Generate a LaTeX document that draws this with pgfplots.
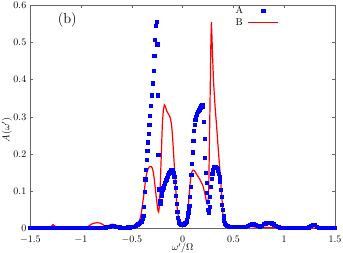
\documentclass[border=0pt]{standalone}
\usepackage{pgfplots}
\pgfplotsset{compat=1.18}
\pgfplotstableread{
w A
-1.50 0.002
-1.48 0.002
-1.46 0.002
-1.44 0.002
-1.42 0.002
-1.40 0.002
-1.38 0.002
-1.36 0.002
-1.34 0.002
-1.32 0.002
-1.30 0.003
-1.28 0.003
-1.26 0.003
-1.24 0.003
-1.22 0.002
-1.20 0.002
-1.18 0.002
-1.16 0.002
-1.14 0.002
-1.12 0.002
-1.10 0.002
-1.08 0.002
-1.06 0.002
-1.04 0.002
-1.02 0.002
-1.00 0.002
-0.98 0.002
-0.96 0.002
-0.94 0.002
-0.92 0.002
-0.90 0.003
-0.88 0.003
-0.86 0.003
-0.84 0.003
-0.82 0.003
-0.80 0.003
-0.78 0.003
-0.76 0.004
-0.74 0.005
-0.72 0.006
-0.70 0.007
-0.68 0.007
-0.66 0.006
-0.64 0.005
-0.62 0.004
-0.60 0.003
-0.58 0.003
-0.56 0.003
-0.54 0.004
-0.52 0.004
-0.50 0.005
-0.48 0.006
-0.46 0.008
-0.450 0.010
-0.440 0.012
-0.430 0.014
-0.420 0.016
-0.410 0.018
-0.400 0.020
-0.394 0.026
-0.388 0.034
-0.381 0.059
-0.375 0.099
-0.368 0.133
-0.362 0.159
-0.355 0.186
-0.349 0.209
-0.342 0.232
-0.335 0.254
-0.329 0.278
-0.321 0.302
-0.311 0.329
-0.304 0.358
-0.294 0.390
-0.287 0.424
-0.280 0.464
-0.273 0.506
-0.263 0.544
-0.257 0.555
-0.250 0.495
-0.246 0.358
-0.241 0.198
-0.234 0.106
-0.228 0.075
-0.222 0.068
-0.216 0.075
-0.210 0.088
-0.204 0.098
-0.198 0.106
-0.192 0.111
-0.186 0.116
-0.180 0.120
-0.174 0.124
-0.168 0.128
-0.162 0.132
-0.156 0.136
-0.150 0.140
-0.144 0.144
-0.138 0.147
-0.132 0.150
-0.126 0.153
-0.120 0.155
-0.114 0.157
-0.108 0.158
-0.102 0.158
-0.096 0.156
-0.090 0.150
-0.084 0.139
-0.077 0.125
-0.071 0.110
-0.065 0.088
-0.059 0.066
-0.053 0.045
-0.047 0.030
-0.041 0.020
-0.035 0.016
-0.029 0.013
-0.023 0.011
-0.016 0.010
-0.010 0.010
-0.003 0.010
0.003 0.011
0.010 0.012
0.016 0.013
0.023 0.015
0.029 0.017
0.036 0.020
0.042 0.025
0.049 0.032
0.055 0.042
0.060 0.052
0.065 0.062
0.071 0.086
0.077 0.113
0.084 0.144
0.090 0.174
0.097 0.205
0.103 0.235
0.110 0.262
0.116 0.280
0.123 0.293
0.129 0.300
0.136 0.305
0.142 0.309
0.149 0.313
0.155 0.317
0.162 0.320
0.168 0.323
0.175 0.326
0.181 0.329
0.188 0.332
0.194 0.333
0.201 0.328
0.208 0.288
0.214 0.242
0.221 0.190
0.227 0.150
0.233 0.124
0.240 0.097
0.246 0.072
0.252 0.052
0.258 0.043
0.264 0.060
0.270 0.086
0.277 0.113
0.283 0.135
0.290 0.148
0.296 0.158
0.303 0.163
0.310 0.166
0.316 0.167
0.323 0.167
0.329 0.165
0.336 0.163
0.342 0.160
0.349 0.155
0.355 0.148
0.362 0.138
0.368 0.125
0.375 0.105
0.381 0.085
0.388 0.065
0.394 0.050
0.401 0.035
0.407 0.023
0.414 0.015
0.420 0.011
0.430 0.009
0.440 0.007
0.450 0.006
0.46 0.005
0.48 0.005
0.50 0.005
0.52 0.005
0.54 0.005
0.56 0.005
0.58 0.005
0.60 0.005
0.62 0.006
0.64 0.008
0.66 0.011
0.68 0.012
0.70 0.012
0.72 0.011
0.74 0.008
0.76 0.006
0.78 0.009
0.80 0.013
0.82 0.015
0.84 0.016
0.86 0.016
0.88 0.015
0.90 0.012
0.92 0.008
0.94 0.005
0.96 0.003
0.98 0.002
1.00 0.002
1.02 0.002
1.04 0.002
1.06 0.003
1.08 0.003
1.10 0.003
1.12 0.003
1.14 0.003
1.16 0.003
1.18 0.003
1.20 0.002
1.22 0.002
1.24 0.004
1.26 0.008
1.28 0.011
1.30 0.010
1.32 0.006
1.34 0.003
1.36 0.002
1.38 0.002
1.40 0.002
1.42 0.002
1.44 0.002
1.46 0.002
1.48 0.002
1.50 0.002
}\tableA
\pgfplotstableread{
w B
-1.50 0.002
-1.35 0.002
-1.31 0.003
-1.29 0.007
-1.275 0.011
-1.26 0.007
-1.24 0.004
-1.20 0.003
-1.00 0.003
-0.95 0.004
-0.92 0.008
-0.90 0.012
-0.87 0.015
-0.84 0.016
-0.81 0.015
-0.78 0.010
-0.76 0.005
-0.74 0.007
-0.71 0.011
-0.69 0.012
-0.66 0.010
-0.63 0.006
-0.60 0.005
-0.55 0.005
-0.50 0.007
-0.47 0.010
-0.45 0.014
-0.43 0.020
-0.415 0.030
-0.405 0.045
-0.395 0.065
-0.385 0.085
-0.378 0.099
-0.37 0.120
-0.36 0.140
-0.35 0.153
-0.34 0.161
-0.33 0.165
-0.32 0.167
-0.31 0.167
-0.30 0.163
-0.29 0.153
-0.28 0.135
-0.27 0.110
-0.26 0.085
-0.25 0.062
-0.242 0.048
-0.236 0.045
-0.231 0.055
-0.226 0.080
-0.220 0.120
-0.210 0.200
-0.200 0.280
-0.190 0.318
-0.180 0.332
-0.170 0.328
-0.160 0.318
-0.150 0.312
-0.140 0.308
-0.130 0.303
-0.120 0.295
-0.110 0.280
-0.100 0.250
-0.090 0.205
-0.080 0.160
-0.070 0.115
-0.060 0.075
-0.050 0.045
-0.040 0.030
-0.030 0.022
-0.020 0.018
-0.010 0.016
0.000 0.016
0.010 0.017
0.020 0.019
0.030 0.023
0.040 0.030
0.050 0.045
0.060 0.075
0.070 0.110
0.080 0.138
0.090 0.152
0.100 0.157
0.110 0.157
0.120 0.154
0.140 0.145
0.170 0.132
0.200 0.115
0.220 0.093
0.235 0.072
0.242 0.067
0.248 0.072
0.253 0.085
0.257 0.110
0.262 0.200
0.267 0.290
0.273 0.400
0.278 0.500
0.283 0.554
0.288 0.520
0.295 0.460
0.305 0.390
0.320 0.325
0.333 0.280
0.349 0.220
0.360 0.180
0.372 0.140
0.380 0.105
0.388 0.077
0.398 0.032
0.410 0.018
0.430 0.010
0.470 0.007
0.500 0.006
0.600 0.004
0.650 0.005
0.680 0.006
0.720 0.004
0.800 0.004
0.850 0.003
1.000 0.002
1.500 0.002
}\tableB
\begin{document}
\begin{tikzpicture}
\begin{axis}[
  scale only axis,
  width=304.7pt, height=223.7pt,
  xmin=-1.5, xmax=1.5, ymin=0, ymax=0.6,
  xtick={-1.5,-1,-0.5,0,0.5,1,1.5},
  ytick={0,0.1,0.2,0.3,0.4,0.5,0.6},
  tick align=inside,
  major tick length=3pt,
  axis line style={black!60, line width=0.6pt},
  every tick/.style={black!60, line width=0.5pt},
  xticklabel style={inner ysep=0pt, yshift=-6.8pt},
  yticklabel style={inner ysep=0pt, xshift=-0.5pt},
  clip=false,
  xlabel={$\omega'/\Omega$},
  ylabel={$A(\omega')$},
  xlabel style={at={(axis description cs:0.5,-0.088)}, anchor=center},
  ylabel style={at={(axis description cs:-0.0765,0.441)}, anchor=center},
  legend plot pos=right,
  legend image code/.code={\draw[mark repeat=2,mark phase=2] plot coordinates {(0pt,0pt) (15pt,0pt) (30pt,0pt)};},
  legend style={at={(axis description cs:0.668,1.0)}, anchor=north west, draw=none, fill=none,
     inner sep=0pt, row sep=0pt, column sep=3pt, nodes={inner sep=1.5pt}},
]
\addplot[only marks, mark=square*, mark size=1.6pt, color=blue] table[x=w, y=A] {\tableA};
\addlegendentry{A}
\addplot[red, line width=1.2pt, mark=none] table[x=w, y=B] {\tableB};
\addlegendentry{B}
\node[font=\fontsize{14.5}{17}\selectfont] at (axis cs:-1.136,0.56) {(b)};
\end{axis}
\pgfresetboundingbox
\path[use as bounding box] (-30.3pt,-24.3pt) rectangle (312.7pt,228.7pt);
\end{tikzpicture}
\end{document}
